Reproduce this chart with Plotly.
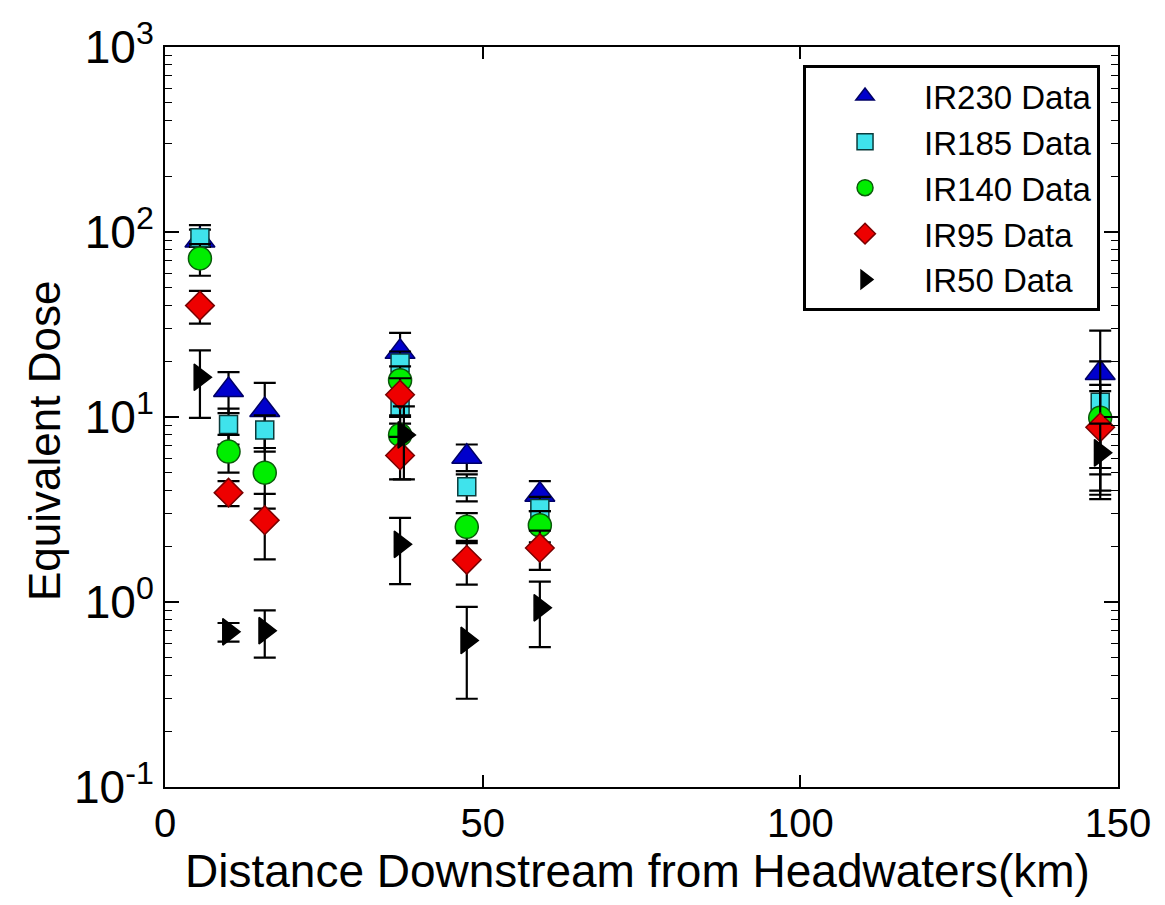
import plotly.graph_objects as go

# ---- data ----
x_km = [5.5, 10.0, 15.7, 37.0, 37.0, 47.5, 59.0, 147.2]

ir230_x = [5.5, 10.0, 15.7, 37.0, 47.5, 59.0, 147.2]
ir230_y = [90, 14.0, 10.9, 22.5, 6.1, 3.8, 17.3]
ir230_e = [19, 3.5, 4.4, 6.0, 1.0, 0.7, 12.0]

ir185_x = x_km
ir185_y = [93, 9.1, 8.5, 19.6, 11.2, 4.2, 3.2, 12.0]
ir185_e = [10, 2.0, 1.7, 3.0, 2.0, 0.7, 0.5, 8.0]

ir140_x = x_km
ir140_y = [72, 6.5, 5.0, 15.8, 8.0, 2.55, 2.6, 9.9]
ir140_e = [14, 1.5, 1.8, 3.0, 2.0, 0.47, 0.5, 5.0]

ir95_x = x_km
ir95_y = [40, 3.9, 2.77, 13.2, 6.2, 1.69, 1.96, 8.8]
ir95_e = [8, 0.6, 1.07, 3.0, 1.6, 0.45, 0.47, 5.0]

ir50_x = [5.5, 10.0, 15.7, 37.6, 37.0, 47.5, 59.0, 147.2]
ir50_y = [16.4, 0.69, 0.70, 8.0, 2.05, 0.62, 0.93, 6.4]
ir50_e = [6.5, 0.08, 0.2, 3.4, 0.8, 0.32, 0.36, 2.8]

y_tickvals = [0.1, 1, 10, 100, 1000]
y_ticktext = ["10<sup>-1</sup>", "10<sup>0</sup>", "10<sup>1</sup>", "10<sup>2</sup>", "10<sup>3</sup>"]
x_tickvals = [0, 50, 100, 150]

x_title = "Distance Downstream from Headwaters(km)"
y_title = "Equivalent Dose"

FONT = "Liberation Sans, Arial, sans-serif"

series = [
    ("IR230 Data", ir230_x, ir230_y, ir230_e, "triangle-up", "#0000CC", "#000066", 26),
    ("IR185 Data", ir185_x, ir185_y, ir185_e, "square", "#3FE3EC", "#0B3B3B", 18),
    ("IR140 Data", ir140_x, ir140_y, ir140_e, "circle", "#00EE00", "#0B5A0B", 23),
    ("IR95 Data", ir95_x, ir95_y, ir95_e, "diamond", "#EE0000", "#7A0000", 22),
    ("IR50 Data", ir50_x, ir50_y, ir50_e, "triangle-right", "#000000", "#000000", 23),
]

fig = go.Figure()
for name, xs, ys, es, sym, fill, edge, size in series:
    fig.add_trace(go.Scatter(
        x=xs, y=ys, mode="markers", name=name,
        marker=dict(symbol=sym, size=size, color=fill, line=dict(color=edge, width=1.5)),
        error_y=dict(type="data", array=es, visible=True, color="black", thickness=2.2, width=11),
    ))

fig.update_layout(
    width=1165, height=905,
    margin=dict(l=165, r=47, t=47, b=118),
    paper_bgcolor="white", plot_bgcolor="white",
    font=dict(family=FONT, color="black", size=40),
    showlegend=True,
    legend=dict(
        x=0.6695, y=0.9757, xanchor="left", yanchor="top",
        bgcolor="white", bordercolor="black", borderwidth=3,
        font=dict(family=FONT, size=33, color="black"),
        itemwidth=108, tracegroupgap=0,
    ),
    annotations=[
        dict(text=x_title, xref="paper", yref="paper", x=0.4953, y=-0.1135,
             xanchor="center", yanchor="middle", showarrow=False,
             font=dict(family=FONT, size=46, color="black")),
        dict(text=y_title, xref="paper", yref="paper", x=-0.1259, y=0.4676,
             xanchor="center", yanchor="middle", showarrow=False, textangle=-90,
             font=dict(family=FONT, size=44, color="black")),
    ],
)

fig.update_xaxes(
    range=[0, 150], tickvals=x_tickvals,
    showline=True, linecolor="black", linewidth=2, mirror="allticks",
    ticks="inside", ticklen=12, tickwidth=1.5, tickcolor="black",
    showgrid=False, zeroline=False,
    tickfont=dict(family=FONT, size=40),
    ticklabelstandoff=0,
)
fig.update_yaxes(
    type="log", range=[-1, 3], tickvals=y_tickvals, ticktext=y_ticktext,
    showline=True, linecolor="black", linewidth=2, mirror="allticks",
    ticks="inside", ticklen=14, tickwidth=1.5, tickcolor="black",
    minor=dict(ticks="inside", ticklen=7, tickwidth=1.2, tickcolor="black", dtick="D1", showgrid=False),
    showgrid=False, zeroline=False,
    tickfont=dict(family=FONT, size=46),
)

fig.write_html("out.html")
